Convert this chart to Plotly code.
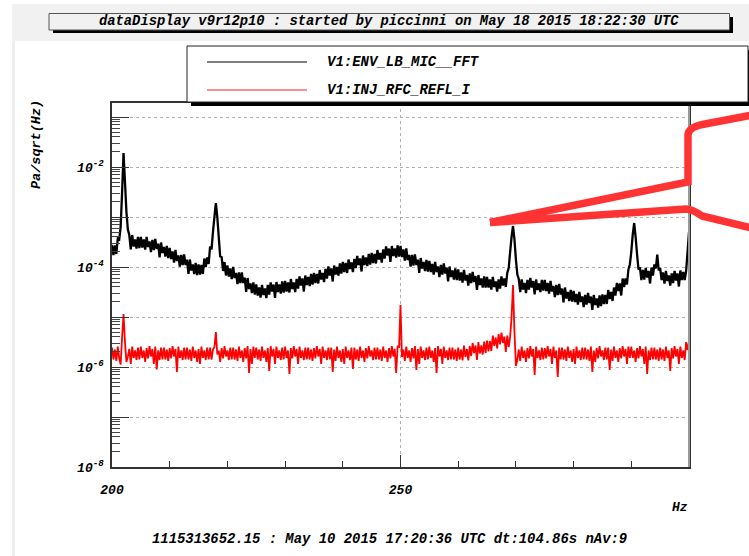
import plotly.graph_objects as go

# ---------------- data ----------------
freq_start_hz = 200.0
freq_step_hz = 0.25
n_points = 401
freq_hz = [freq_start_hz + i * freq_step_hz for i in range(n_points)]

series_names = ["V1:ENV_LB_MIC__FFT", "V1:INJ_RFC_REFL_I"]

# log10 of amplitude (Pa/sqrt(Hz)), 0.25 Hz spacing, one row = 5 Hz
black_log10 = [
    -3.56, -3.76, -3.57, -3.74, -3.43, -3.45, -3.20, -2.50, -1.72, -2.30, -2.90, -3.25, -3.36, -3.65, -3.36, -3.59, -3.45, -3.63, -3.40, -3.62,
    -3.40, -3.61, -3.45, -3.65, -3.40, -3.60, -3.49, -3.70, -3.46, -3.66, -3.44, -3.64, -3.53, -3.81, -3.51, -3.72, -3.60, -3.79, -3.58, -3.82,
    -3.62, -3.84, -3.69, -3.91, -3.66, -3.88, -3.77, -3.99, -3.76, -3.96, -3.75, -3.96, -3.85, -4.14, -3.85, -4.07, -3.95, -4.14, -3.92, -4.16,
    -3.95, -4.15, -3.96, -4.14, -3.83, -4.00, -3.81, -3.94, -3.59, -3.65, -3.30, -3.00, -2.72, -3.00, -3.40, -3.79, -3.80, -4.08, -3.90, -4.17,
    -3.97, -4.19, -4.03, -4.24, -4.00, -4.22, -4.12, -4.34, -4.11, -4.32, -4.11, -4.32, -4.21, -4.50, -4.22, -4.44, -4.33, -4.52, -4.31, -4.55,
    -4.35, -4.57, -4.41, -4.61, -4.36, -4.56, -4.43, -4.62, -4.36, -4.55, -4.31, -4.49, -4.35, -4.62, -4.30, -4.50, -4.35, -4.53, -4.29, -4.51,
    -4.28, -4.49, -4.31, -4.51, -4.24, -4.44, -4.31, -4.50, -4.24, -4.43, -4.19, -4.37, -4.23, -4.49, -4.17, -4.36, -4.20, -4.38, -4.14, -4.35,
    -4.12, -4.32, -4.14, -4.33, -4.06, -4.25, -4.12, -4.30, -4.04, -4.23, -3.99, -4.17, -4.03, -4.29, -3.97, -4.15, -4.00, -4.17, -3.93, -4.13,
    -3.90, -4.10, -3.92, -4.12, -3.85, -4.04, -3.91, -4.10, -3.84, -4.02, -3.78, -3.96, -3.83, -4.09, -3.77, -3.96, -3.81, -3.98, -3.74, -3.95,
    -3.72, -3.92, -3.74, -3.93, -3.66, -3.85, -3.72, -3.91, -3.65, -3.83, -3.59, -3.77, -3.63, -3.90, -3.58, -3.78, -3.63, -3.81, -3.57, -3.79,
    -3.58, -3.80, -3.65, -3.87, -3.63, -3.86, -3.76, -3.99, -3.76, -3.97, -3.75, -3.96, -3.85, -4.12, -3.82, -4.03, -3.90, -4.08, -3.86, -4.09,
    -3.88, -4.10, -3.94, -4.15, -3.90, -4.10, -3.99, -4.20, -3.96, -4.15, -3.93, -4.13, -4.01, -4.29, -3.99, -4.20, -4.07, -4.25, -4.03, -4.26,
    -4.05, -4.27, -4.11, -4.31, -4.06, -4.27, -4.16, -4.37, -4.13, -4.32, -4.10, -4.30, -4.18, -4.46, -4.16, -4.36, -4.23, -4.41, -4.19, -4.41,
    -4.20, -4.41, -4.25, -4.45, -4.20, -4.40, -4.29, -4.49, -4.25, -4.43, -4.19, -4.37, -4.23, -4.40, -4.12, -4.02, -3.70, -3.40, -3.18, -3.45,
    -3.85, -4.15, -4.24, -4.50, -4.25, -4.45, -4.32, -4.52, -4.26, -4.45, -4.22, -4.41, -4.28, -4.55, -4.25, -4.46, -4.33, -4.50, -4.26, -4.47,
    -4.26, -4.48, -4.32, -4.53, -4.28, -4.49, -4.38, -4.60, -4.36, -4.56, -4.34, -4.55, -4.43, -4.71, -4.41, -4.63, -4.50, -4.68, -4.46, -4.69,
    -4.48, -4.70, -4.54, -4.75, -4.50, -4.70, -4.59, -4.80, -4.56, -4.75, -4.52, -4.72, -4.59, -4.86, -4.56, -4.76, -4.63, -4.81, -4.57, -4.78,
    -4.55, -4.74, -4.56, -4.74, -4.46, -4.64, -4.50, -4.68, -4.41, -4.57, -4.32, -4.48, -4.33, -4.57, -4.23, -4.40, -4.23, -4.35, -4.05, -3.95,
    -3.70, -3.35, -3.12, -3.40, -3.75, -4.05, -4.01, -4.26, -4.06, -4.25, -4.02, -4.21, -4.08, -4.33, -4.01, -4.17, -3.95, -4.03, -3.75, -4.07,
    -4.02, -4.26, -4.11, -4.33, -4.08, -4.28, -4.17, -4.37, -4.13, -4.32, -4.08, -4.27, -4.13, -4.39, -4.07, -4.26, -4.10, -4.26, -4.08, -3.70,
    -3.30,
]

red_log10 = [
    -5.61, -5.85, -5.65, -5.88, -5.59, -5.82, -5.95, -5.40, -4.94, -5.50, -5.90, -5.79, -5.64, -5.94, -5.59, -5.82, -5.67, -5.86, -5.61, -5.85,
    -5.59, -5.82, -5.67, -5.90, -5.62, -5.83, -5.58, -5.79, -5.64, -5.94, -5.59, -6.05, -5.67, -5.86, -5.61, -5.85, -5.61, -5.85, -5.65, -5.88,
    -5.62, -5.83, -5.58, -5.79, -5.64, -6.10, -5.59, -5.82, -5.67, -5.86, -5.61, -5.85, -5.61, -5.85, -5.65, -5.88, -5.59, -5.82, -5.67, -5.90,
    -5.64, -5.94, -5.59, -5.82, -5.67, -5.86, -5.61, -5.85, -5.61, -5.85, -5.65, -5.60, -5.30, -5.75, -5.67, -5.90, -5.62, -5.83, -5.58, -5.79,
    -5.67, -5.86, -5.61, -5.85, -5.61, -5.85, -5.65, -5.88, -5.59, -5.82, -5.67, -5.90, -5.62, -5.83, -5.58, -6.12, -5.64, -5.94, -5.59, -5.82,
    -5.61, -5.85, -5.65, -5.88, -5.59, -5.82, -5.67, -5.90, -5.62, -6.08, -5.58, -5.79, -5.64, -5.94, -5.59, -5.82, -5.67, -5.86, -5.61, -5.85,
    -5.59, -5.82, -5.67, -6.14, -5.62, -5.83, -5.58, -5.79, -5.64, -5.94, -5.59, -5.82, -5.67, -5.86, -5.61, -5.85, -5.61, -5.85, -5.65, -5.88,
    -5.62, -5.83, -5.58, -5.79, -5.64, -5.94, -5.59, -5.82, -5.67, -5.86, -5.61, -5.85, -5.61, -6.10, -5.65, -5.88, -5.59, -5.82, -5.67, -5.90,
    -5.64, -5.94, -5.59, -5.82, -5.67, -5.86, -5.61, -6.04, -5.61, -5.85, -5.65, -5.88, -5.59, -5.82, -5.67, -5.90, -5.62, -5.83, -5.58, -5.79,
    -5.67, -5.86, -5.61, -5.85, -5.61, -5.85, -5.65, -5.88, -5.59, -5.82, -5.67, -5.90, -5.62, -5.83, -5.58, -5.79, -5.64, -6.12, -5.59, -5.60,
    -4.76, -5.80, -5.65, -5.88, -5.59, -5.82, -5.67, -5.90, -5.62, -5.83, -5.58, -6.06, -5.64, -5.94, -5.59, -5.82, -5.67, -5.86, -5.61, -5.85,
    -5.59, -5.82, -5.67, -5.90, -5.62, -6.12, -5.58, -5.79, -5.64, -5.94, -5.59, -5.82, -5.67, -5.86, -5.61, -5.85, -5.61, -5.85, -5.65, -5.88,
    -5.61, -5.85, -5.65, -5.87, -5.57, -5.80, -5.64, -5.87, -5.58, -5.78, -5.52, -5.72, -5.57, -5.86, -5.50, -5.73, -5.57, -5.75, -5.49, -5.72,
    -5.47, -5.69, -5.48, -5.68, -5.37, -5.58, -5.41, -5.63, -5.34, -5.55, -5.31, -5.52, -5.39, -5.70, -5.37, -5.60, -5.40, -5.00, -4.36, -5.30,
    -5.98, -5.85, -5.65, -5.88, -5.59, -5.82, -5.67, -5.90, -5.62, -5.83, -5.58, -5.79, -5.64, -6.16, -5.59, -5.82, -5.67, -5.86, -5.61, -5.85,
    -5.62, -5.83, -5.58, -5.79, -5.64, -5.94, -5.59, -5.82, -5.67, -6.20, -5.61, -5.85, -5.61, -5.85, -5.65, -5.88, -5.59, -5.82, -5.67, -5.90,
    -5.64, -5.94, -5.59, -5.82, -5.67, -5.86, -5.61, -5.85, -5.61, -5.85, -5.65, -5.88, -5.59, -6.10, -5.67, -5.90, -5.62, -5.83, -5.58, -5.79,
    -5.67, -5.86, -5.61, -5.85, -5.61, -6.06, -5.65, -5.88, -5.59, -5.82, -5.67, -5.90, -5.62, -5.83, -5.58, -5.79, -5.64, -5.94, -5.59, -5.82,
    -5.59, -5.82, -5.67, -5.90, -5.62, -5.83, -5.58, -5.79, -5.64, -5.94, -5.59, -6.14, -5.67, -5.86, -5.61, -5.85, -5.61, -5.85, -5.65, -5.88,
    -5.61, -5.85, -5.65, -5.88, -5.59, -5.82, -5.67, -6.08, -5.62, -5.83, -5.58, -5.79, -5.64, -5.94, -5.59, -5.82, -5.67, -5.86, -5.50, -5.66,
    -5.50,
]

black_vals = [10 ** v for v in black_log10]
red_vals = [10 ** v for v in red_log10]

x_tick_vals = [200, 250, 300]
x_tick_text = ["200", "250", ""]
y_tick_vals = [1e-8, 1e-7, 1e-6, 1e-5, 1e-4, 1e-3, 1e-2, 1e-1]
y_tick_text = ["10<sup>-8</sup>", "", "10<sup>-6</sup>", "", "10<sup>-4</sup>", "",
               "10<sup>-2</sup>", ""]

title_text = "dataDisplay v9r12p10 : started by piccinni on May 18 2015 18:22:30 UTC"
footer_text = "1115313652.15 : May 10 2015 17:20:36 UTC dt:104.86s nAv:9"
y_title = "Pa/sqrt(Hz)"
x_unit = "Hz"

# ---------------- layout helpers ----------------
W, H = 749, 556
L, R, T, B = 112, 60, 103, 89
PW, PH = W - L - R, H - T - B


def px(x):
    return (x - L) / PW


def py(y):
    return (H - B - y) / PH


FONT = "Liberation Mono, Courier New, monospace"


def tfont(size):
    return dict(family=FONT, size=size, color="black", weight="bold", style="italic")


fig = go.Figure()
fig.add_trace(go.Scatter(x=freq_hz, y=black_vals, mode="lines", name=series_names[0],
                         line=dict(color="#000000", width=2.3, simplify=False), showlegend=False))
fig.add_trace(go.Scatter(x=freq_hz, y=red_vals, mode="lines", name=series_names[1],
                         line=dict(color="#ff0000", width=1.8, simplify=False), showlegend=False))

shapes = []
# grey frame around canvas
shapes.append(dict(type="rect", xref="paper", yref="paper", x0=px(12), x1=px(749),
                   y0=py(41), y1=py(4), fillcolor="#f1f1f1", line=dict(width=0), layer="below"))
shapes.append(dict(type="rect", xref="paper", yref="paper", x0=px(12), x1=px(15),
                   y0=py(556), y1=py(41), fillcolor="#eeeeee", line=dict(width=0), layer="below"))
# title box with shadow
shapes.append(dict(type="rect", xref="paper", yref="paper", x0=px(53), x1=px(733),
                   y0=py(33), y1=py(17), fillcolor="#000000", line=dict(width=0)))
shapes.append(dict(type="rect", xref="paper", yref="paper", x0=px(49), x1=px(729.5),
                   y0=py(30), y1=py(13.5), fillcolor="#f1f1f1", line=dict(color="#555555", width=1)))
# right frame edge (grey)
shapes.append(dict(type="line", xref="paper", yref="paper", x0=1, x1=1, y0=0, y1=1,
                   line=dict(color="#999999", width=2)))
# legend box with shadow
shapes.append(dict(type="rect", xref="paper", yref="paper", x0=px(191), x1=px(760),
                   y0=py(106), y1=py(50), fillcolor="#000000", line=dict(width=0)))
shapes.append(dict(type="rect", xref="paper", yref="paper", x0=px(187), x1=px(748),
                   y0=py(102), y1=py(46), fillcolor="#ffffff", line=dict(color="#222222", width=1)))
shapes.append(dict(type="line", xref="paper", yref="paper", x0=px(207), x1=px(307),
                   y0=py(62), y1=py(62), line=dict(color="#000000", width=1)))
shapes.append(dict(type="line", xref="paper", yref="paper", x0=px(207), x1=px(307),
                   y0=py(90), y1=py(90), line=dict(color="#ff6a6a", width=1.5)))


# red hand-drawn annotation
def pth(points_cmds):
    out = []
    for cmd, pts in points_cmds:
        coords = " ".join(f"{px(a):.4f},{py(b):.4f}" for a, b in pts)
        out.append(f"{cmd} {coords}")
    return " ".join(out)


upper = pth([("M", [(490, 222.5)]), ("L", [(688, 182)]), ("L", [(688, 135)]),
             ("Q", [(688, 127), (705, 124)]), ("L", [(752, 115)])])
lower = pth([("M", [(490, 222.5)]), ("L", [(686, 209)]),
             ("Q", [(692, 209), (702, 216)]), ("L", [(752, 228)])])
for p in (upper, lower):
    shapes.append(dict(type="path", xref="paper", yref="paper", path=p,
                       line=dict(color="#ff3333", width=7.5), layer="above"))

annotations = [
    dict(text=title_text, x=px(389), y=py(22), xref="paper", yref="paper",
         showarrow=False, xanchor="center", yanchor="middle", font=tfont(13.8)),
    dict(text=series_names[0], x=px(325), y=py(62), xref="paper", yref="paper",
         showarrow=False, xanchor="left", yanchor="middle", font=tfont(14)),
    dict(text=series_names[1], x=px(325), y=py(90), xref="paper", yref="paper",
         showarrow=False, xanchor="left", yanchor="middle", font=tfont(14)),
    dict(text=y_title, x=px(36), y=py(145), xref="paper", yref="paper", textangle=-90,
         showarrow=False, xanchor="center", yanchor="middle", font=tfont(13.5)),
    dict(text=x_unit, x=px(680), y=py(507), xref="paper", yref="paper",
         showarrow=False, xanchor="center", yanchor="middle", font=tfont(13)),
    dict(text=footer_text, x=px(389), y=py(539), xref="paper", yref="paper",
         showarrow=False, xanchor="center", yanchor="middle", font=tfont(13.9)),
]

fig.update_layout(
    width=W, height=H,
    margin=dict(l=L, r=R, t=T, b=B, pad=0),
    paper_bgcolor="#ffffff", plot_bgcolor="#ffffff",
    font=tfont(13),
    showlegend=False,
    shapes=shapes,
    annotations=annotations,
    xaxis=dict(
        range=[200, 300], tickmode="array", tickvals=x_tick_vals, ticktext=x_tick_text,
        ticks="inside", ticklen=12, tickcolor="#333333", tickwidth=1,
        showgrid=True, gridcolor="#b0b0b0", griddash="dot", gridwidth=1,
        showline=True, linecolor="#333333", linewidth=1.5, mirror=True,
        zeroline=False, ticklabelstandoff=10, tickfont=tfont(13),
        minor=dict(dtick=10, ticks="inside", ticklen=6, tickcolor="#333333", showgrid=False),
    ),
    yaxis=dict(
        type="log", range=[-8, -0.72], tickmode="array", tickvals=y_tick_vals,
        ticktext=y_tick_text, ticks="inside", ticklen=17, tickcolor="#333333",
        showgrid=True, gridcolor="#b0b0b0", griddash="dot", gridwidth=1,
        showline=True, linecolor="#333333", linewidth=1.5, mirror=True,
        zeroline=False, ticklabelstandoff=4, tickfont=tfont(13),
        minor=dict(dtick="D1", ticks="inside", ticklen=8, tickcolor="#444444", showgrid=False),
    ),
)

fig.write_html("out.html", config={"displayModeBar": False},
               post_script="document.body.style.margin='0';")
